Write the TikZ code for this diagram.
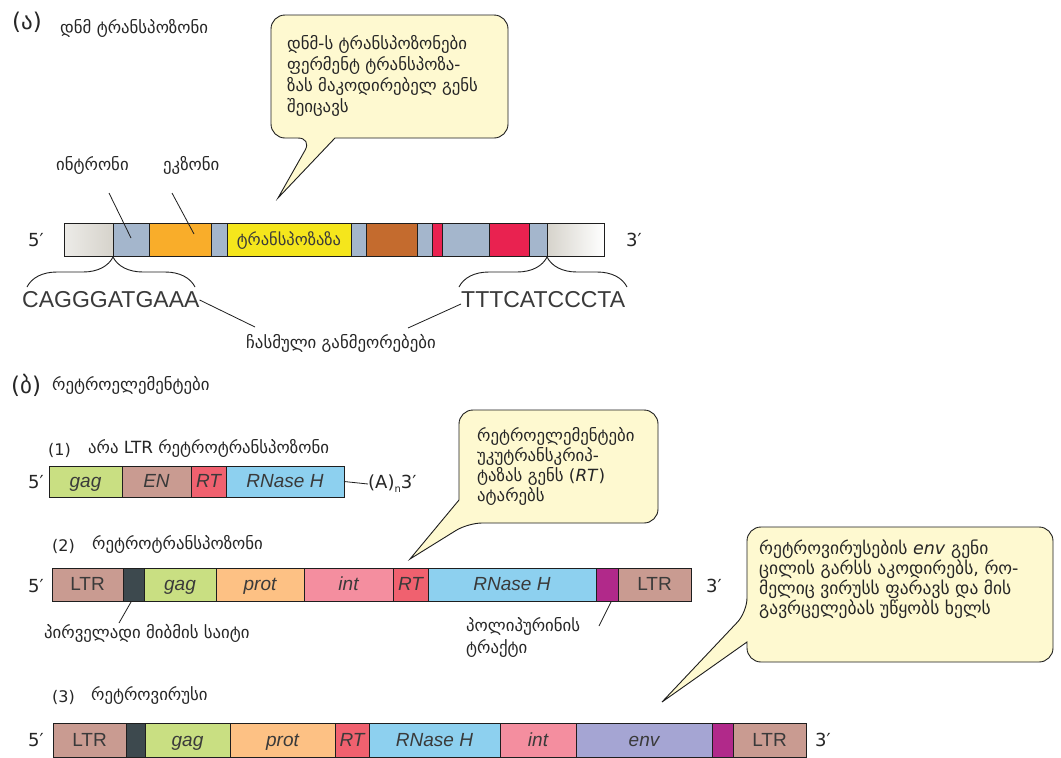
\documentclass[tikz,border=0pt]{standalone}
\usepackage{fontspec}
\setmainfont{DejaVu Sans}
\newfontfamily\latin{Liberation Sans}
\usetikzlibrary{decorations.pathreplacing}

\definecolor{txt}{HTML}{262626}
\definecolor{lbl}{HTML}{3A3A3A}
\definecolor{edge}{HTML}{1E1E1E}
\definecolor{callfill}{HTML}{FEF9D0}
% transposon palette
\definecolor{intr}{HTML}{A4B6CC}
\definecolor{exo}{HTML}{F9AD2A}
\definecolor{tpase}{HTML}{F5E61C}
\definecolor{brn}{HTML}{C46B2E}
\definecolor{crim}{HTML}{E92250}
\definecolor{flank}{HTML}{D6D3CB}
% retroelement palette
\definecolor{ltr}{HTML}{C99B91}
\definecolor{pbs}{HTML}{3D494E}
\definecolor{gag}{HTML}{C9DF82}
\definecolor{prot}{HTML}{FDC184}
\definecolor{int}{HTML}{F48E9F}
\definecolor{rt}{HTML}{F0616F}
\definecolor{rnase}{HTML}{8DD0EF}
\definecolor{ppt}{HTML}{B1298A}
\definecolor{env}{HTML}{A5A5D3}

% one coloured segment of a gene map: name, left x, right x, top y, fill, label
\newcommand\segm[6]{\node[seg, fill=#5, minimum width={(#3)-(#2)}] (#1) at (#2,#4) {#6};}

\begin{document}
\begin{tikzpicture}[x=1pt,y=-1pt,
  seg/.style={draw=edge, line width=0.8pt, anchor=north west, inner sep=0pt,
    outer sep=0pt, minimum height=33pt, text=lbl, text height=16pt, text depth=4pt,
    font=\latin\fontsize{19}{19}\selectfont\itshape},
  geo/.style={anchor=west, inner sep=0pt, text=txt, text height=12pt, text depth=5pt,
    font=\fontsize{16.8}{21}\selectfont},
  head/.style={anchor=west, inner sep=0pt, text=txt, font=\fontsize{23}{23}\selectfont},
  num/.style={anchor=west, inner sep=0pt, text=txt, font=\fontsize{16}{16}\selectfont},
  prime/.style={anchor=west, inner sep=0pt, text=txt, font=\fontsize{18}{18}\selectfont},
  seq/.style={anchor=west, inner sep=0pt, text=lbl, font=\latin\fontsize{23}{23}\selectfont},
  call/.style={draw=edge, line width=0.9pt, fill=callfill},
  calltext/.style={anchor=north west, inner sep=0pt, align=left, text=txt},
  pointer/.style={draw=edge, line width=0.8pt},
  brace/.style={draw=edge, line width=0.9pt, decorate}]

\path[use as bounding box, fill=white] (0,0) rectangle (1061,758);

% ---------------- (a) DNA transposon ----------------
\node[head] (capA) at (12,22) {(ა)};
\node[geo] (titleA) at (60,30) {დნმ ტრანსპოზონი};

\draw[call] (335,138) [rounded corners=14pt] -- (508,138) -- (508,15) -- (271,15)
  -- (271,138) -- (312,138) [sharp corners] -- (278,198) -- cycle;
\node[calltext, font=\fontsize{16.8}{21}\selectfont] (noteA) at (287,35)
  {\rule{0pt}{13pt}დნმ-ს ტრანსპოზონები\\ფერმენტ ტრანსპოზა-\\ზას მაკოდირებელ გენს\\შეიცავს};

\node[geo] (intron) at (56,167) {ინტრონი};
\node[geo] (exon) at (163,167) {ეკზონი};

\node[seg, left color=white!55!flank, right color=flank, minimum width=49pt] (tL) at (64,223) {};
\segm{t1}{113}{149}{223}{intr}{}
\segm{t2}{149}{211}{223}{exo}{}
\segm{t3}{211}{227}{223}{intr}{}
\segm{t4}{227}{351}{223}{tpase}{\normalfont\fontsize{16.5}{16.5}\selectfont ტრანსპოზაზა}
\segm{t5}{351}{366}{223}{intr}{}
\segm{t6}{366}{417}{223}{brn}{}
\segm{t7}{417}{432}{223}{intr}{}
\segm{t8}{432}{442}{223}{crim}{}
\segm{t9}{442}{489}{223}{intr}{}
\segm{t10}{489}{529}{223}{crim}{}
\segm{t11}{529}{547}{223}{intr}{}
\node[seg, left color=flank, right color=white, minimum width=57pt] (tR) at (547,223) {};

\node[prime] (fiveA) at (28,240) {5′};
\node[prime] (threeA) at (626,240) {3′};

\coordinate (intronFrom) at (109,193);
\coordinate (intronTo) at (131,238);
\coordinate (exonFrom) at (172,193);
\coordinate (exonTo) at (194,234);
\draw[pointer] (intronFrom) -- (intronTo);
\draw[pointer] (exonFrom) -- (exonTo);

\coordinate (lbA) at (27,287);
\coordinate (lbB) at (195,287);
\coordinate (rbA) at (459,287);
\coordinate (rbB) at (627,287);
\draw[brace, decoration={brace, amplitude=30pt, aspect=0.512}] (lbA) -- (lbB);
\draw[brace, decoration={brace, amplitude=30pt, aspect=0.524}] (rbA) -- (rbB);

\node[seq] (seqL) at (22,300) {CAGGGATGAAA};
\node[seq] (seqR) at (461,300) {TTTCATCCCTA};
\node[geo] (repeats) at (246,345) {ჩასმული განმეორებები};
\coordinate (repL) at (255,327);
\coordinate (repR) at (408,328);
\draw[pointer] (seqL.east) -- (repL);
\draw[pointer] ([yshift=-4pt]seqR.west) -- (repR);

% ---------------- (b) retroelements ----------------
\node[head] (capB) at (11,385) {(ბ)};
\node[geo] (titleB) at (52,387) {რეტროელემენტები};

% (1) non-LTR retrotransposon
\node[num] (n1) at (48,450) {(1)};
\node[geo] (t1lab) at (88,450) {არა LTR რეტროტრანსპოზონი};
\begin{scope}[seg/.append style={minimum height=31pt}]
\segm{a1}{49}{122}{466}{gag}{gag}
\segm{a2}{122}{191}{466}{ltr}{EN}
\segm{a3}{191}{226}{466}{rt}{RT}
\segm{a4}{226}{344}{466}{rnase}{RNase H}
\end{scope}
\node[prime] (fiveB1) at (28,482) {5′};
\node[prime] (polyA) at (368,484) {(A)\raisebox{-4pt}{\fontsize{10}{10}\selectfont n}3′};
\draw[pointer] (a4.east) -- (polyA.west);

\draw[call] (459,500) [rounded corners=14pt] -- (459,410) -- (658,410) -- (658,523)
  -- (468,523) [sharp corners] -- (410,559) -- cycle;
\node[calltext, font=\fontsize{16.8}{20}\selectfont] (noteB) at (477,427)
  {\rule{0pt}{13pt}რეტროელემენტები\\უკუტრანსკრიპ-\\ტაზას გენს (\textit{RT})\\ატარებს};

% (2) LTR retrotransposon
\node[num] (n2) at (52,546) {(2)};
\node[geo] (t2lab) at (92,546) {რეტროტრანსპოზონი};
\segm{b1}{52}{123}{568}{ltr}{\upshape LTR}
\segm{b2}{123}{144}{568}{pbs}{}
\segm{b3}{144}{216}{568}{gag}{gag}
\segm{b4}{216}{304}{568}{prot}{prot}
\segm{b5}{304}{393}{568}{int}{int}
\segm{b6}{393}{428}{568}{rt}{RT}
\segm{b7}{428}{596}{568}{rnase}{RNase H}
\segm{b8}{596}{618}{568}{ppt}{}
\segm{b9}{618}{691}{568}{ltr}{\upshape LTR}
\node[prime] (fiveB2) at (28,586) {5′};
\node[prime] (threeB2) at (706,586) {3′};

\node[geo] (pbsLab) at (44,635) {პირველადი მიბმის საიტი};
\node[calltext, font=\fontsize{16.8}{22}\selectfont] (pptLab) at (466,617)
  {\rule{0pt}{13pt}პოლიპურინის\\ტრაქტი};
\coordinate (pbsFrom) at (131,602);
\coordinate (pbsTo) at (119,623);
\coordinate (pptFrom) at (611,602);
\coordinate (pptTo) at (599,626);
\draw[pointer] (pbsFrom) -- (pbsTo);
\draw[pointer] (pptFrom) -- (pptTo);

\draw[call] (747,642) [rounded corners=14pt] -- (747,662) -- (1053,662) -- (1053,527)
  -- (747,527) -- (747,612) [sharp corners] -- (662,702) -- cycle;
\node[calltext, font=\fontsize{17.5}{20}\selectfont] (noteC) at (759,540)
  {\rule{0pt}{13pt}რეტროვირუსების \textit{env} გენი\\ცილის გარსს აკოდირებს, რო-\\მელიც ვირუსს ფარავს და მის\\გავრცელებას უწყობს ხელს};

% (3) retrovirus
\node[num] (n3) at (52,697) {(3)};
\node[geo] (t3lab) at (91,697) {რეტროვირუსი};
\begin{scope}[seg/.append style={minimum height=34pt}]
\segm{c1}{53}{126}{723}{ltr}{\upshape LTR}
\segm{c2}{126}{145}{723}{pbs}{}
\segm{c3}{145}{230}{723}{gag}{gag}
\segm{c4}{230}{335}{723}{prot}{prot}
\segm{c5}{335}{369}{723}{rt}{RT}
\segm{c6}{369}{500}{723}{rnase}{RNase H}
\segm{c7}{500}{576}{723}{int}{int}
\segm{c8}{576}{712}{723}{env}{env}
\segm{c9}{712}{733}{723}{ppt}{}
\segm{c10}{733}{806}{723}{ltr}{\upshape LTR}
\end{scope}
\node[prime] (fiveB3) at (28,740) {5′};
\node[prime] (threeB3) at (815,740) {3′};

\end{tikzpicture}
\end{document}
